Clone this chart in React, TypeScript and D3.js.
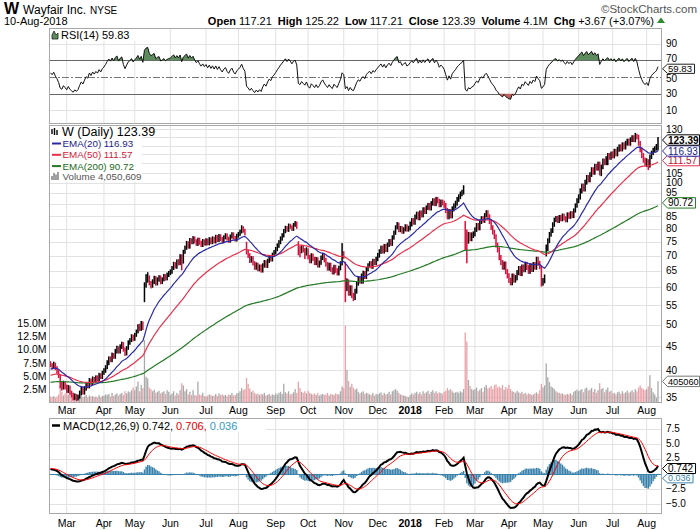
import React, { useEffect, useRef } from 'react';
import * as d3 from 'd3';

// Daily closes, Feb 14 2017 .. Aug 10 2018 (one row per month)
const closes = [
  41.0, 40.6, 41.2, 40.4, 39.8, 38.9, 37.2, 36.8, 37.5, 36.9,
  36.2, 36.8, 35.9, 35.4, 34.9, 35.3, 34.8, 35.1, 35.8, 36.4, 35.9, 36.6, 37.3, 37.0, 38.1, 37.6, 38.4, 38.0, 38.6, 38.3, 39.1, 38.7, 39.5,
  39.9, 40.6, 41.5, 42.3, 42.0, 43.1, 42.7, 43.9, 44.6, 43.8, 44.9, 45.5, 44.2, 43.4, 44.6, 45.8, 46.3, 47.2, 46.6,
  47.5, 48.3, 49.6, 48.9, 50.4, 49.2, 58.6, 61.9, 63.1, 61.2, 60.4, 61.7, 62.8, 61.1, 62.3, 63.0, 61.6, 62.4, 63.4, 62.7, 63.8, 64.3,
  64.8, 65.9, 67.2, 66.4, 68.1, 67.5, 69.8, 67.9, 71.4, 72.8, 74.5, 73.2, 75.6, 74.8, 76.3, 75.1, 74.2, 75.7, 74.6, 73.8, 75.2, 74.3,
  75.5, 74.4, 75.9, 74.8, 76.2, 75.1, 76.8, 75.6, 77.1, 76.0, 75.2, 76.6, 77.4, 76.1, 75.4, 76.9, 77.8, 76.5, 75.8, 77.2,
  77.9, 78.8, 80.4, 79.1, 78.2, 71.3, 70.1, 68.4, 69.2, 67.5, 66.1, 67.0, 65.6, 66.4, 65.2, 66.8, 67.9, 66.7, 68.3, 69.5, 68.8, 70.4, 71.2,
  72.3, 73.6, 74.8, 76.2, 77.4, 78.9, 80.3, 79.5, 81.2, 80.6, 79.8, 81.4, 82.1, 80.7, 72.4, 71.6, 73.0, 71.9, 70.8, 72.2,
  69.5, 68.2, 70.1, 69.0, 67.6, 68.8, 66.9, 67.7, 69.3, 70.2, 68.5, 67.1, 65.8, 66.9, 65.4, 64.6, 66.2, 65.1, 64.3, 65.9, 67.4, 70.6,
  69.8, 60.8, 61.9, 58.3, 59.9, 57.6, 57.1, 58.9, 61.2, 62.7, 61.8, 63.5, 64.4, 63.2, 65.6, 66.8, 67.5, 66.4, 68.3, 67.6, 69.0,
  70.2, 71.5, 72.8, 71.6, 73.4, 72.1, 73.9, 75.2, 74.3, 76.6, 78.4, 80.5, 81.6, 79.4, 80.2, 78.8, 79.7, 80.9, 79.6, 80.3,
  81.8, 83.2, 82.5, 84.7, 85.9, 84.3, 86.4, 85.5, 87.8, 86.9, 88.6, 89.7, 88.4, 90.5, 91.8, 90.3, 92.4, 91.5, 89.8, 91.2, 90.6,
  89.6, 87.4, 84.8, 86.9, 85.2, 88.1, 89.4, 90.6, 92.3, 93.5, 94.8, 95.6, 97.4, 77.9, 75.2, 77.6, 76.1, 77.4, 77.9,
  79.6, 81.3, 80.2, 82.7, 84.1, 83.2, 85.4, 86.6, 84.9, 82.7, 80.4, 78.6, 76.9, 73.8, 72.1, 69.4, 67.8, 66.2, 67.3, 64.8, 63.5,
  62.1, 61.4, 63.4, 62.2, 62.9, 64.5, 65.8, 64.2, 66.3, 65.4, 67.2, 66.1, 64.9, 66.7, 65.5, 67.1, 66.2, 68.9, 67.5, 66.4, 61.3,
  62.0, 63.1, 72.6, 75.4, 77.8, 79.2, 81.6, 83.5, 84.2, 83.1, 84.6, 83.8, 85.2, 84.1, 83.4, 85.7, 84.8, 86.2, 85.1, 87.4, 89.6, 91.8,
  93.4, 96.2, 98.5, 97.1, 100.4, 102.8, 101.5, 104.2, 106.8, 105.3, 108.6, 107.4, 109.8, 104.6, 108.2, 111.5, 110.3, 112.8, 114.6, 113.2, 115.4,
  114.2, 116.8, 115.3, 117.9, 119.4, 118.1, 120.6, 119.2, 121.5, 122.8, 121.4, 123.6, 124.9, 123.5, 126.8, 125.2, 121.4, 117.6, 114.3, 111.8, 110.2,
  111.4, 108.9, 113.6, 115.8, 117.5, 118.4, 119.72, 123.39,
];

const highs = [
  41.8, 41.4, 41.7, 41.5, 40.8, 40.1, 39.1, 37.8, 38.0, 37.9,
  37.3, 37.2, 37.1, 36.2, 35.8, 35.7, 35.6, 35.5, 36.2, 36.9, 36.8, 37.0, 37.7, 37.7, 38.5, 38.4, 38.8, 38.7, 39.0, 39.0, 39.5, 39.4, 39.9,
  40.4, 41.0, 42.0, 42.8, 42.8, 43.6, 43.5, 44.4, 45.1, 45.0, 45.4, 46.0, 45.9, 44.7, 45.0, 46.3, 46.8, 47.7, 47.6,
  48.0, 48.8, 50.1, 50.2, 50.9, 50.8, 61.5, 64.0, 64.6, 63.6, 61.9, 62.4, 63.5, 63.4, 63.0, 63.7, 63.6, 63.0, 64.1, 64.0, 64.5, 65.0,
  65.5, 66.6, 68.0, 67.9, 68.8, 68.9, 70.6, 70.5, 72.1, 73.6, 75.3, 75.2, 76.4, 76.3, 77.1, 77.0, 75.9, 76.5, 76.5, 75.4, 76.0, 75.9,
  76.3, 76.2, 76.7, 76.6, 77.0, 76.9, 77.6, 77.5, 77.9, 77.8, 76.8, 77.4, 78.2, 78.1, 76.9, 77.7, 78.6, 78.5, 77.2, 78.0,
  78.7, 79.6, 81.3, 80.9, 79.9, 75.0, 72.1, 70.9, 69.9, 69.9, 68.2, 67.8, 67.7, 67.1, 67.1, 67.5, 68.6, 68.5, 69.0, 70.2, 70.2, 71.1, 72.0,
  73.1, 74.4, 75.6, 77.0, 78.2, 79.8, 81.1, 81.0, 82.0, 81.9, 81.3, 82.2, 83.0, 82.8, 75.2, 73.4, 73.8, 73.8, 72.7, 73.0,
  72.6, 70.3, 70.9, 70.8, 69.7, 69.6, 69.5, 68.4, 70.1, 71.0, 71.0, 69.3, 67.9, 67.7, 67.7, 66.2, 67.0, 67.0, 65.9, 66.7, 68.2, 74.5,
  71.6, 68.0, 62.7, 62.4, 60.6, 60.6, 58.4, 59.6, 61.9, 63.4, 63.3, 64.2, 65.1, 65.0, 66.3, 67.5, 68.2, 68.2, 69.0, 69.0, 69.7,
  71.0, 72.3, 73.6, 73.6, 74.2, 74.2, 74.7, 76.0, 76.0, 77.4, 79.2, 81.3, 82.6, 82.4, 81.0, 81.0, 80.5, 81.7, 81.7, 81.1,
  82.8, 84.2, 84.2, 85.7, 86.9, 86.9, 87.4, 87.4, 88.8, 88.8, 89.6, 90.7, 90.7, 91.5, 92.8, 92.8, 93.4, 93.4, 92.5, 92.2, 92.2,
  91.7, 90.7, 88.5, 88.0, 88.0, 89.2, 90.5, 91.7, 93.4, 94.6, 95.9, 96.7, 98.9, 83.0, 79.6, 78.7, 78.6, 78.5, 78.9,
  80.5, 82.2, 82.2, 83.6, 85.0, 85.0, 86.3, 87.5, 87.5, 85.8, 83.6, 81.3, 79.5, 77.8, 74.7, 73.0, 70.3, 68.6, 68.1, 68.1, 65.6,
  64.3, 62.9, 64.2, 64.2, 63.7, 65.3, 66.6, 66.6, 67.1, 67.1, 68.0, 68.0, 66.9, 67.5, 67.5, 67.9, 67.9, 69.7, 69.7, 68.3, 66.8,
  62.8, 63.9, 74.0, 76.3, 78.7, 80.1, 82.5, 84.4, 85.1, 85.1, 85.5, 85.5, 86.1, 86.1, 85.0, 86.6, 86.6, 87.1, 87.1, 88.3, 90.5, 92.8,
  94.6, 97.4, 99.7, 99.7, 101.6, 104.0, 104.0, 105.4, 108.0, 108.0, 109.8, 109.8, 111.0, 111.0, 109.4, 112.7, 112.7, 114.0, 115.8, 115.8, 116.6,
  116.8, 118.2, 118.2, 119.3, 120.8, 120.8, 122.0, 122.0, 122.9, 124.2, 124.2, 125.0, 126.3, 126.3, 127.8, 127.2, 126.6, 122.8, 119.0, 115.7, 113.2,
  112.8, 112.3, 114.9, 117.1, 118.8, 119.7, 121.0, 125.22,
];

const lows = [
  40.6, 40.1, 40.3, 40.0, 39.3, 38.5, 36.6, 36.2, 36.4, 36.4,
  35.8, 35.8, 35.5, 35.0, 34.5, 34.6, 34.4, 34.5, 34.8, 35.4, 35.5, 35.5, 36.2, 36.6, 36.6, 37.2, 37.2, 37.6, 37.6, 37.9, 37.9, 38.3, 38.3,
  39.1, 39.5, 40.2, 41.0, 41.6, 41.6, 42.3, 42.3, 43.4, 43.4, 43.4, 44.4, 43.8, 42.9, 43.0, 44.2, 45.3, 45.9, 46.1,
  46.2, 47.1, 47.9, 48.4, 48.5, 48.7, 55.8, 59.9, 61.4, 60.6, 59.7, 59.9, 61.0, 60.5, 60.6, 61.7, 60.9, 61.0, 61.8, 62.0, 62.1, 63.1,
  63.7, 64.1, 65.3, 65.8, 65.7, 66.8, 66.9, 65.2, 67.4, 70.7, 72.1, 72.5, 72.5, 74.1, 74.1, 74.4, 73.5, 73.5, 73.9, 73.1, 73.1, 73.6,
  73.6, 73.7, 73.7, 74.1, 74.1, 74.4, 74.4, 74.9, 74.9, 75.3, 74.5, 74.5, 75.9, 75.4, 74.6, 74.7, 76.2, 75.8, 75.1, 75.1,
  76.5, 77.2, 78.1, 78.4, 77.4, 70.5, 69.3, 67.6, 67.7, 66.8, 65.4, 65.4, 64.9, 64.9, 64.5, 64.5, 66.1, 66.0, 66.0, 67.6, 68.1, 68.1, 69.7,
  70.5, 71.6, 72.8, 74.1, 75.4, 76.6, 78.2, 78.8, 78.7, 79.9, 79.1, 79.1, 80.7, 79.9, 70.2, 69.5, 70.9, 71.2, 68.9, 70.1,
  68.8, 67.5, 67.5, 68.3, 66.9, 66.9, 66.1, 66.1, 67.0, 68.6, 67.8, 66.4, 65.1, 65.1, 64.7, 63.9, 63.9, 64.4, 63.6, 63.6, 65.2, 66.8,
  69.0, 55.8, 58.9, 57.6, 57.6, 56.9, 56.1, 56.4, 58.2, 60.5, 61.1, 61.1, 61.1, 62.5, 62.5, 64.9, 66.1, 65.7, 65.7, 66.9, 66.9,
  68.2, 69.4, 70.7, 70.8, 70.8, 71.3, 71.3, 73.1, 73.5, 73.5, 75.8, 77.6, 79.7, 78.6, 78.6, 78.0, 78.0, 78.9, 78.8, 78.8,
  79.3, 80.8, 81.5, 81.5, 83.7, 83.3, 83.3, 84.5, 84.5, 85.9, 85.9, 87.6, 87.4, 87.4, 89.5, 89.3, 89.3, 90.5, 88.8, 88.8, 89.6,
  88.5, 86.3, 83.7, 83.7, 84.1, 84.1, 87.0, 88.3, 89.5, 91.2, 92.4, 93.7, 94.5, 72.0, 67.5, 74.3, 75.2, 75.2, 76.4,
  77.0, 78.7, 79.3, 79.3, 81.8, 82.3, 82.3, 84.5, 84.0, 81.8, 79.5, 77.7, 76.0, 72.9, 71.2, 68.5, 66.9, 65.4, 65.4, 64.0, 62.7,
  61.3, 60.6, 60.6, 61.4, 61.4, 62.1, 63.7, 63.4, 63.4, 64.6, 64.6, 65.3, 64.1, 64.1, 64.7, 64.7, 65.4, 65.4, 66.7, 65.6, 60.2,
  60.5, 61.2, 69.8, 71.7, 74.5, 76.9, 78.3, 80.7, 82.6, 82.2, 82.2, 82.9, 82.9, 83.2, 82.5, 82.5, 83.9, 83.9, 84.2, 84.2, 86.5, 88.6,
  90.6, 92.2, 95.0, 95.9, 95.9, 99.2, 100.3, 100.3, 103.0, 104.1, 104.1, 106.2, 106.2, 103.8, 103.4, 107.0, 109.1, 109.1, 109.1, 112.0, 112.0,
  112.8, 112.8, 113.9, 113.9, 116.5, 116.7, 116.7, 117.8, 117.8, 120.1, 120.0, 120.0, 122.2, 122.1, 122.1, 123.8, 120.0, 116.2, 112.9, 110.4, 108.8,
  108.1, 106.5, 107.8, 112.4, 114.6, 116.3, 117.2, 117.21,
];

// volume in millions of shares
const volumes = [
  1.2, 1.1, 1.3, 1.0, 1.2, 1.6, 3.2, 2.1, 1.4, 1.8,
  2.2, 1.5, 1.9, 1.6, 2.0, 1.3, 1.7, 1.2, 1.4, 1.6, 1.1, 1.3, 1.5, 1.0, 1.4, 1.2, 1.3, 1.1, 1.2, 1.0, 1.5, 1.1, 1.3,
  1.4, 1.6, 1.5, 1.7, 1.2, 1.9, 1.3, 1.6, 1.8, 1.4, 1.7, 1.9, 1.5, 2.2, 1.8, 2.2, 2.0, 2.4, 2.9,
  2.4, 3.1, 4.0, 2.2, 3.4, 2.8, 11.8, 4.9, 4.6, 2.9, 2.6, 2.2, 2.5, 1.9, 2.1, 2.3, 1.8, 2.0, 2.2, 1.7, 2.4, 2.1,
  1.5, 1.8, 2.2, 1.4, 1.9, 1.6, 2.4, 3.7, 3.3, 2.2, 2.6, 1.6, 2.1, 1.5, 2.4, 1.5, 1.4, 4.0, 1.6, 1.5, 1.9, 1.3,
  1.2, 1.4, 1.6, 1.5, 1.3, 1.4, 1.7, 1.3, 1.8, 1.5, 1.6, 1.4, 1.5, 1.3, 1.6, 1.5, 1.9, 1.4, 1.5, 1.8,
  1.9, 2.2, 2.8, 2.4, 2.6, 4.7, 3.6, 2.7, 2.1, 2.3, 1.9, 1.6, 1.8, 1.5, 1.7, 1.6, 1.9, 1.4, 1.5, 1.7, 1.4, 1.6, 1.5,
  1.8, 1.6, 1.9, 2.1, 1.7, 3.6, 2.0, 1.8, 2.2, 1.6, 1.7, 2.0, 2.6, 1.9, 4.0, 2.8, 2.1, 1.9, 2.2, 1.8,
  2.3, 1.9, 1.7, 1.6, 1.8, 1.5, 1.9, 1.4, 1.6, 1.7, 1.5, 1.6, 1.9, 1.4, 1.7, 1.6, 1.5, 1.8, 1.7, 1.6, 2.2, 3.1,
  2.8, 14.5, 6.2, 4.1, 3.0, 3.6, 2.9, 2.5, 2.7, 2.1, 1.8, 2.0, 2.2, 1.7, 1.9, 1.8, 1.6, 1.5, 1.9, 1.4, 1.7,
  1.6, 1.8, 2.0, 1.5, 1.9, 1.6, 1.7, 2.1, 1.6, 2.2, 2.4, 2.6, 2.3, 1.9, 1.6, 1.5, 1.4, 1.3, 1.2, 1.1,
  1.5, 1.8, 1.6, 1.9, 2.1, 1.7, 2.0, 1.6, 2.2, 1.8, 2.0, 2.3, 1.7, 2.1, 2.4, 1.9, 2.2, 1.8, 2.0, 1.9, 1.7,
  2.1, 2.3, 2.8, 2.4, 2.6, 2.2, 1.9, 2.0, 2.1, 1.9, 2.2, 2.0, 2.6, 13.2, 11.5, 4.3, 3.2, 2.6, 2.4,
  2.6, 2.9, 2.2, 2.5, 2.8, 2.1, 3.0, 3.4, 2.7, 2.9, 3.2, 2.6, 3.3, 3.5, 2.9, 3.1, 2.8, 3.4, 2.5, 3.0, 2.7,
  3.4, 2.6, 2.2, 2.1, 1.9, 2.3, 2.0, 1.8, 2.1, 1.7, 1.9, 1.6, 1.8, 1.7, 1.5, 1.6, 1.8, 2.0, 1.7, 2.4, 3.6,
  2.9, 3.3, 7.4, 4.8, 3.9, 3.1, 2.9, 2.6, 2.2, 2.0, 1.9, 1.7, 1.8, 1.6, 1.5, 1.7, 1.6, 1.8, 1.5, 2.1, 2.3, 2.5,
  2.2, 2.4, 2.6, 2.0, 2.7, 2.9, 2.3, 2.5, 2.8, 2.1, 2.6, 1.9, 2.4, 3.7, 2.6, 2.8, 2.0, 2.5, 2.9, 2.1, 2.3,
  1.8, 1.9, 1.6, 2.0, 2.1, 1.7, 2.2, 1.8, 2.0, 2.3, 1.9, 2.1, 2.4, 2.0, 2.6, 2.2, 2.9, 3.3, 2.8, 2.6, 2.4,
  2.6, 3.1, 5.2, 2.8, 2.0, 1.6, 1.0, 4.05,
];

const holidays = [
  '2017-02-20', '2017-04-14', '2017-05-29', '2017-07-04', '2017-09-04', '2017-11-23', '2017-12-25',
  '2018-01-01', '2018-01-15', '2018-02-19', '2018-03-30', '2018-05-28', '2018-07-04',
];

// indicator starting states (values before Feb 14 2017, read from the left edge)
const prevClose0 = 41.3;
const emaSeeds = { e20: 40.2, e50: 38.95, e200: 37.68, e12: 40.9, e26: 40.0, sig: 0.95 };
const rsiSeed = { gain: 0.42, loss: 0.32 };

const priceTicks = [35, 40, 45, 50, 55, 60, 65, 70, 75, 80, 85, 90, 95, 100, 105, 110, 115, 120, 125, 130];
const volTicks = [2.5, 5, 7.5, 10, 12.5, 15];
const rsiTicks = [10, 30, 50, 70, 90];
const macdTicks = [-5, -2.5, 2.5, 5, 7.5];

const lastVals = { close: '123.39', e20: '116.93', e50: '111.57', e200: '90.72', vol: '4,050,609', volTag: '405060', rsi: '59.83', macd: '0.742', sig: '0.706', hist: '0.036' };

const C = {
  up: '#000000', down: '#d6123f', e20: '#2a2aa8', e50: '#e8304c', e200: '#257a25',
  volUp: '#a9a9a9', volDown: '#e8a3a9', grid: '#e2e2e2', frame: '#a8a8a8', hist: '#3a82ab',
};

const ema = (vals: number[], n: number, seed: number) => {
  const k = 2 / (n + 1);
  let prev = seed;
  return vals.map(v => (prev = v * k + prev * (1 - k)));
};

const App: React.FC = () => {
  const svgRef = useRef<SVGSVGElement>(null);

  useEffect(() => {
    if (!svgRef.current) return;
    const svg = d3.select(svgRef.current);
    svg.selectAll('*').remove();

    const fmtDay = d3.utcFormat('%Y-%m-%d');
    const days = d3.utcDays(new Date(Date.UTC(2017, 1, 14)), new Date(Date.UTC(2018, 7, 11)))
      .filter(d => d.getUTCDay() % 6 !== 0 && !holidays.includes(fmtDay(d)));
    const n = closes.length;

    const L = 49, R = 662;
    const rsiTop = 28, rsiBot = 124, mainTop = 125, mainBot = 403, macdTop = 418, macdBot = 514;

    const x = d3.scalePoint<number>().domain(d3.range(n)).range([50.5, 658]);
    const y = d3.scaleLog().domain([34.07, 132.8]).range([mainBot, mainTop]);
    const yVol = d3.scaleLinear().domain([0, 52.06]).range([mainBot, mainTop]);
    const yRsi = d3.scaleLinear().domain([-6.3, 108.7]).range([rsiBot, rsiTop]);
    const yMacd = d3.scaleLinear().domain([-6.67, 9.33]).range([macdBot, macdTop]);

    const e20 = ema(closes, 20, emaSeeds.e20);
    const e50 = ema(closes, 50, emaSeeds.e50);
    const e200 = ema(closes, 200, emaSeeds.e200);
    const e12 = ema(closes, 12, emaSeeds.e12);
    const e26 = ema(closes, 26, emaSeeds.e26);
    const macd = e12.map((v, i) => v - e26[i]);
    const signal = ema(macd, 9, emaSeeds.sig);
    const hist = macd.map((v, i) => v - signal[i]);
    let ag = rsiSeed.gain, al = rsiSeed.loss;
    const rsi = closes.map((c, i) => {
      const ch = c - (i ? closes[i - 1] : prevClose0);
      ag = (ag * 13 + Math.max(ch, 0)) / 14;
      al = (al * 13 + Math.max(-ch, 0)) / 14;
      return 100 - 100 / (1 + ag / al);
    });
    const isUp = (i: number) => closes[i] >= (i ? closes[i - 1] : prevClose0);

    const monthStarts = d3.range(1, n).filter(i => days[i] && days[i].getUTCMonth() !== days[i - 1].getUTCMonth());

    svg.attr('font-family', '"Liberation Sans", Arial, sans-serif');
    svg.append('rect').attr('width', 700).attr('height', 530).attr('fill', '#fff');

    // header
    const hdr = svg.append('g');
    const t1 = hdr.append('text').attr('x', 4).attr('y', 13.5);
    t1.append('tspan').attr('font-weight', 'bold').attr('font-size', 16).text('W');
    t1.append('tspan').attr('font-size', 12).attr('dx', 4).text('Wayfair Inc.');
    t1.append('tspan').attr('font-size', 10).attr('dx', 4).text('NYSE');
    hdr.append('text').attr('x', 697).attr('y', 13).attr('text-anchor', 'end').attr('font-size', 11.5)
      .attr('fill', '#555').text('\u00A9StockCharts.com');
    hdr.append('text').attr('x', 4).attr('y', 25).attr('font-size', 11).text('10-Aug-2018');
    const t2 = hdr.append('text').attr('x', 654).attr('y', 25).attr('text-anchor', 'end').attr('font-size', 11);
    [['Open', '117.21'], ['High', '125.22'], ['Low', '117.21'], ['Close', '123.39'], ['Volume', '4.1M'], ['Chg', '+3.67 (+3.07%)']]
      .forEach(([k, v], j) => {
        t2.append('tspan').attr('font-weight', 'bold').attr('dx', j ? 6 : 0).text(k);
        t2.append('tspan').attr('dx', 3).text(v);
      });
    hdr.append('path').attr('d', 'M657,23 L665,23 L661,17.5 Z').attr('fill', '#2e8b2e');

    // panel frames + grid
    const panel = (top: number, bot: number) => {
      const g = svg.append('g');
      g.append('rect').attr('x', L).attr('y', top).attr('width', R - L).attr('height', bot - top).attr('fill', '#fff');
      g.selectAll('line.v').data(monthStarts).join('line')
        .attr('x1', i => x(i)!).attr('x2', i => x(i)!).attr('y1', top).attr('y2', bot)
        .attr('stroke', C.grid);
      return g;
    };
    const frame = (top: number, bot: number) =>
      svg.append('rect').attr('x', L + 0.5).attr('y', top + 0.5).attr('width', R - L - 1).attr('height', bot - top - 1)
        .attr('fill', 'none').attr('stroke', C.frame);

    const hline = (g: any, yy: number, stroke: string, dash?: string) =>
      g.append('line').attr('x1', L).attr('x2', R).attr('y1', Math.round(yy) + 0.5).attr('y2', Math.round(yy) + 0.5)
        .attr('stroke', stroke).attr('stroke-dasharray', dash || null);

    // right side value tag with arrow
    const tag = (yy: number, label: string, stroke: string, fill: string, bold = false, size = 10, hh = 5.2) => {
      const g = svg.append('g');
      const p = g.append('path');
      const t = g.append('text').attr('x', 668).attr('y', yy).attr('dy', '0.35em').attr('font-size', size)
        .attr('fill', fill).attr('font-weight', bold ? 'bold' : 'normal').text(label);
      const w = (t.node() as SVGTextElement).getComputedTextLength();
      const r = Math.min(699.5, 668 + w + 2.5);
      p.attr('d', `M662.5,${yy} L667.5,${yy - hh} L${r},${yy - hh} L${r},${yy + hh} L667.5,${yy + hh} Z`)
        .attr('fill', '#fff').attr('stroke', stroke);
    };
    const axisLabel = (yy: number, label: string, size = 10) =>
      svg.append('text').attr('x', 666).attr('y', yy).attr('dy', '0.35em').attr('font-size', size).text(label);

    // ---------- RSI ----------
    const gr = panel(rsiTop, rsiBot);
    [10, 90].forEach(v => hline(gr, yRsi(v), C.grid));
    hline(gr, yRsi(70), '#666');
    hline(gr, yRsi(30), '#666');
    hline(gr, yRsi(50), '#777', '7,2,2,2');
    gr.append('path').datum(rsi)
      .attr('d', d3.area<number>().x((_, i) => x(i)!).y0(yRsi(70)).y1(d => yRsi(Math.max(d, 70))))
      .attr('fill', '#5e8c5e');
    gr.append('path').datum(rsi)
      .attr('d', d3.area<number>().x((_, i) => x(i)!).y0(yRsi(30)).y1(d => yRsi(Math.min(d, 30))))
      .attr('fill', '#c0605f');
    gr.append('path').datum(rsi)
      .attr('d', d3.line<number>().x((_, i) => x(i)!).y(d => yRsi(d)))
      .attr('fill', 'none').attr('stroke', '#111').attr('stroke-width', 1);
    frame(rsiTop, rsiBot);
    gr.append('rect').attr('x', 50).attr('y', 29).attr('width', 86).attr('height', 12).attr('fill', '#fff');
    gr.append('path').attr('d', 'M52,39 L52,35 L54,31 L56,35 L58,33 L58,39 Z').attr('fill', '#5e8c5e').attr('stroke', '#222').attr('stroke-width', 0.8);
    gr.append('text').attr('x', 61).attr('y', 39).attr('font-size', 11).text(`RSI(14) ${lastVals.rsi}`);
    rsiTicks.forEach(v => axisLabel(yRsi(v) + (v === 70 ? -1.5 : v === 50 ? 1.5 : 0), String(v)));
    tag(yRsi(+lastVals.rsi), lastVals.rsi, '#222', '#000', false, 9.6, 4.6);

    // ---------- Price + volume ----------
    const gm = panel(mainTop, mainBot);
    priceTicks.forEach(v => hline(gm, y(v), C.grid));
    gm.append('g').selectAll('rect').data(volumes).join('rect')
      .attr('x', (_, i) => x(i)! - 0.65).attr('width', 1.3)
      .attr('y', d => yVol(d)).attr('height', d => mainBot - yVol(d))
      .attr('fill', (_, i) => (isUp(i) ? C.volUp : C.volDown));
    gm.append('g').selectAll('rect').data(closes).join('rect')
      .attr('x', (_, i) => x(i)! - 0.75).attr('width', 1.5)
      .attr('y', (_, i) => y(highs[i])).attr('height', (_, i) => Math.max(1, y(lows[i]) - y(highs[i])))
      .attr('fill', (_, i) => (isUp(i) ? C.up : C.down));
    const pline = d3.line<number>().x((_, i) => x(i)!).y(d => y(d));
    [[e200, C.e200], [e50, C.e50], [e20, C.e20]].forEach(([s, c]) =>
      gm.append('path').datum(s as number[]).attr('d', pline).attr('fill', 'none')
        .attr('stroke', c as string).attr('stroke-width', 1.2));
    frame(mainTop, mainBot);

    // legend
    const lg = svg.append('g');
    lg.append('rect').attr('x', 50).attr('y', 126).attr('width', 92).attr('height', 56).attr('fill', '#fff');
    [[52, 129, 134], [54.5, 128, 135], [57, 130, 135]].forEach(([xx, a, b]) =>
      lg.append('line').attr('x1', xx).attr('x2', xx).attr('y1', a).attr('y2', b).attr('stroke', '#000').attr('stroke-width', 1.4));
    lg.append('text').attr('x', 62).attr('y', 136).attr('font-size', 12.5).text(`W (Daily) ${lastVals.close}`);
    [[`EMA(20) ${lastVals.e20}`, C.e20, '#1a1a8c'], [`EMA(50) ${lastVals.e50}`, C.e50, '#d21a3c'], [`EMA(200) ${lastVals.e200}`, C.e200, '#1a6a1a']]
      .forEach(([label, c, tc], j) => {
        const yy = 143.5 + j * 11.3;
        lg.append('line').attr('x1', 52).attr('x2', 61).attr('y1', yy).attr('y2', yy).attr('stroke', c).attr('stroke-width', 2);
        lg.append('text').attr('x', 62.5).attr('y', yy + 3.4).attr('font-size', 9.8).attr('fill', tc).text(label);
      });
    [[52, 176, 180], [54, 173, 180], [56, 174.5, 180], [58, 172, 180]].forEach(([xx, a, b]) =>
      lg.append('line').attr('x1', xx).attr('x2', xx).attr('y1', a).attr('y2', b).attr('stroke', '#777').attr('stroke-width', 1.4));
    lg.append('text').attr('x', 62.5).attr('y', 180).attr('font-size', 9.8).attr('fill', '#555').text(`Volume ${lastVals.vol}`);

    // price axis labels (skip the ones covered by tags)
    const tagYs = [lastVals.close, lastVals.e20, lastVals.e50, lastVals.e200].map(v => y(+v));
    priceTicks.filter(v => tagYs.every(t => Math.abs(t - y(v)) > 6))
      .forEach(v => axisLabel(y(v) + (v === 105 ? 1 : v === 95 ? -0.8 : 0), String(v)));
    volTicks.forEach(v =>
      svg.append('text').attr('x', 46.5).attr('y', yVol(v)).attr('dy', '0.35em').attr('text-anchor', 'end')
        .attr('font-size', 10.5).text(`${d3.format('.1f')(v)}M`));
    tag(yVol(4.050609), lastVals.volTag, '#777', '#000', false, 9.2);
    tag(y(+lastVals.e200), lastVals.e200, C.e200, '#000');
    tag(y(+lastVals.e50), lastVals.e50, C.e50, '#c01030');
    tag(y(+lastVals.e20), lastVals.e20, C.e20, '#1a1a8c');
    tag(y(+lastVals.close), lastVals.close, '#000', '#000', true);

    // x axis labels
    const xLabels = (yy: number) =>
      monthStarts.forEach(i => {
        const d = days[i];
        const jan = d.getUTCMonth() === 0;
        svg.append('text').attr('x', x(i)!).attr('y', yy).attr('text-anchor', 'middle').attr('font-size', 10.5)
          .attr('font-weight', jan ? 'bold' : 'normal').text(jan ? d3.utcFormat('%Y')(d) : d3.utcFormat('%b')(d));
      });
    xLabels(413.5);

    // ---------- MACD ----------
    const gd = panel(macdTop, macdBot);
    [-5, -2.5, 0, 2.5, 5, 7.5].forEach(v => hline(gd, yMacd(v), C.grid));
    gd.append('g').selectAll('rect').data(hist).join('rect')
      .attr('x', (_, i) => x(i)! - 0.7).attr('width', 1.4)
      .attr('y', d => Math.min(yMacd(d), yMacd(0))).attr('height', d => Math.abs(yMacd(d) - yMacd(0)))
      .attr('fill', C.hist);
    hline(gd, yMacd(0), C.hist);
    const mline = d3.line<number>().x((_, i) => x(i)!).y(d => yMacd(d));
    gd.append('path').datum(macd).attr('d', mline).attr('fill', 'none').attr('stroke', '#000').attr('stroke-width', 2);
    gd.append('path').datum(signal).attr('d', mline).attr('fill', 'none').attr('stroke', '#ff0000').attr('stroke-width', 1);
    frame(macdTop, macdBot);
    gd.append('rect').attr('x', 50).attr('y', 419).attr('width', 216).attr('height', 13).attr('fill', '#fff');
    gd.append('line').attr('x1', 52).attr('x2', 60).attr('y1', 425.5).attr('y2', 425.5).attr('stroke', '#000').attr('stroke-width', 2.5);
    const mt = gd.append('text').attr('x', 63).attr('y', 429.5).attr('font-size', 11);
    mt.append('tspan').text(`MACD(12,26,9) ${lastVals.macd},`);
    mt.append('tspan').attr('fill', '#e00000').text(` ${lastVals.sig},`);
    mt.append('tspan').attr('fill', '#3399cc').text(` ${lastVals.hist}`);
    macdTicks.forEach(v => axisLabel(yMacd(v) + (v === 2.5 ? -1 : 0), d3.format('.1f')(v)));
    tag(yMacd(+lastVals.hist) + 4.5, lastVals.hist, '#3a82ab', '#3a82ab', false, 9, 4.6);
    tag(yMacd(+lastVals.macd) - 1, lastVals.macd, '#000', '#000', false, 10, 5);
    xLabels(526.5);

    if (days.length !== n || highs.length !== n || lows.length !== n || volumes.length !== n) {
      svg.append('text').attr('x', 300).attr('y', 300).attr('fill', 'red')
        .text(`len mismatch ${days.length} ${n} ${highs.length} ${lows.length} ${volumes.length}`);
    }
  }, []);

  return (
    <svg ref={svgRef} width={700} height={530}
      style={{ position: 'absolute', left: 0, top: 0, display: 'block' }} />
  );
};

export default App;
